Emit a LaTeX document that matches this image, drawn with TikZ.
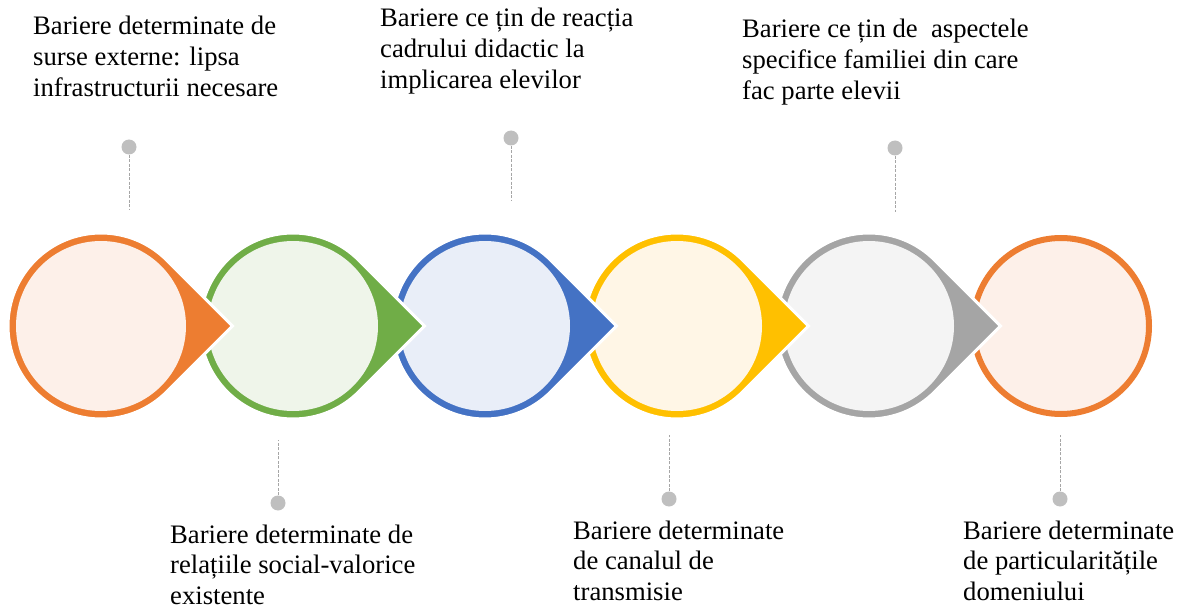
\documentclass[tikz,border=0pt]{standalone}
\usepackage{fontspec}
\setmainfont{Liberation Serif}
\usetikzlibrary{calc}
\definecolor{cOr}{HTML}{ED7D31}
\definecolor{cOrL}{HTML}{FDF0E9}
\definecolor{cGr}{HTML}{70AD47}
\definecolor{cGrL}{HTML}{EFF5EA}
\definecolor{cBl}{HTML}{4472C4}
\definecolor{cBlL}{HTML}{E9EEF8}
\definecolor{cGo}{HTML}{FFC000}
\definecolor{cGoL}{HTML}{FFF6E6}
\definecolor{cGy}{HTML}{A5A5A5}
\definecolor{cGyL}{HTML}{F4F4F4}
\definecolor{dotgray}{HTML}{BFBFBF}
\definecolor{linegray}{HTML}{A6A6A6}
\begin{document}
\begin{tikzpicture}[x=1pt,y=-1pt,
  lbl/.style={anchor=base west, inner sep=0pt, align=left, font=\fontsize{26.67}{30.7}\selectfont},
  dotnode/.style={circle, fill=dotgray, inner sep=0pt, minimum size=15pt},
  dashline/.style={draw=linegray, line width=1pt, dash pattern=on 3pt off 1.5pt}]
\useasboundingbox (0,0) rectangle (1187,607);
\def\Rt{93}
\foreach \i/\x in {1/101,2/293,3/485,4/677,5/869,6/1061} \coordinate (c\i) at (\x,326);
% last circle
\fill[cOrL, draw=cOr, line width=6pt] (c6) circle[radius=88];
% teardrops, right to left
\foreach \i/\col/\lt in {5/cGy/cGyL,4/cGo/cGoL,3/cBl/cBlL,2/cGr/cGrL,1/cOr/cOrL}{
  \fill[\col, draw=white, line width=3pt, miter limit=10]
    ($(c\i)+(45:\Rt)$) -- ($(c\i)+(1.41421*\Rt,0)$) -- ($(c\i)+(-45:\Rt)$)
    arc[start angle=-45, end angle=-315, radius=\Rt] -- cycle;
  \fill[\lt] (c\i) circle[radius=85];
}
% dots and dashed lines
\node[dotnode] (d1) at (129,147) {};
\coordinate (e1) at (129,210);
\node[dotnode] (d2) at (511,138) {};
\coordinate (e2) at (511,201);
\node[dotnode] (d3) at (895,148) {};
\coordinate (e3) at (895,212);
\node[dotnode] (d4) at (278,503) {};
\coordinate (e4) at (278,440);
\node[dotnode] (d5) at (669,499) {};
\coordinate (e5) at (669,435);
\node[dotnode] (d6) at (1060,499) {};
\coordinate (e6) at (1060,435);
\foreach \k in {1,...,6} \draw[dashline] (d\k) -- (e\k);
% labels (anchor = baseline of last line)
\node[lbl] (t1) at (33,96.4) {Bariere determinate de\\surse externe: lipsa\\infrastructurii necesare};
\node[lbl] (t2) at (380,88.4) {Bariere ce țin de reacția\\cadrului didactic la\\implicarea elevilor};
\node[lbl] (t3) at (742,99.4) {Bariere ce țin de\ \ aspectele\\specifice familiei din care\\fac parte elevii};
\node[lbl] (t4) at (170,604.4) {Bariere determinate de\\relațiile social-valorice\\existente};
\node[lbl] (t5) at (573,600.4) {Bariere determinate\\de canalul de\\transmisie};
\node[lbl] (t6) at (963,600.4) {Bariere determinate\\de particularitățile\\domeniului};
\end{tikzpicture}
\end{document}
